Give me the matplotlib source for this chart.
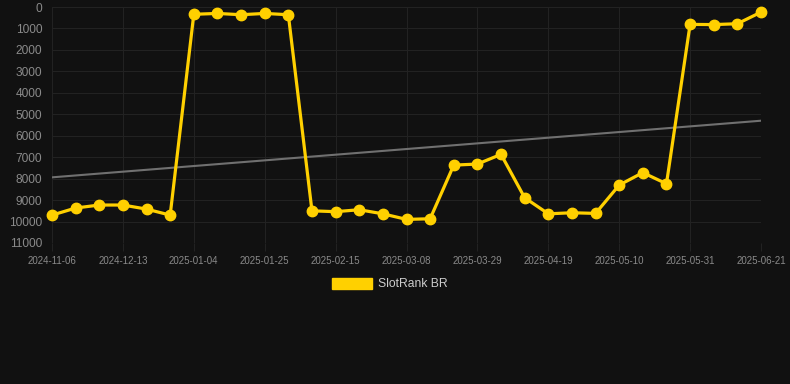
import numpy as np
import matplotlib.pyplot as plt
from matplotlib.patches import Patch

plt.rcParams['font.family'] = ['Liberation Sans', 'DejaVu Sans']

# weekly rank values (category axis, only every 3rd date is labelled)
dates = ['2024-11-06', '2024-11-22', '2024-11-29', '2024-12-13', '2024-12-20',
         '2024-12-27', '2025-01-04', '2025-01-11', '2025-01-18', '2025-01-25',
         '2025-02-01', '2025-02-08', '2025-02-15', '2025-02-22', '2025-03-01',
         '2025-03-08', '2025-03-15', '2025-03-22', '2025-03-29', '2025-04-05',
         '2025-04-12', '2025-04-19', '2025-04-26', '2025-05-03', '2025-05-10',
         '2025-05-17', '2025-05-24', '2025-05-31', '2025-06-07', '2025-06-14',
         '2025-06-21']
rank = [9700, 9370, 9230, 9230, 9420, 9700, 340, 300, 360, 300, 360,
        9500, 9540, 9450, 9640, 9900, 9870, 7370, 7320, 6870, 8890,
        9640, 9590, 9620, 8300, 7720, 8240, 810, 820, 780, 240]
trend_ends = [7940, 5300]

yticks = list(range(0, 11001, 1000))

bg = '#111111'
gold = '#FFD000'
grid = '#222222'
label = '#8a8a8a'

fig = plt.figure(figsize=(7.9, 3.84), dpi=100, facecolor=bg)
ax = fig.add_axes([52 / 790, 1 - 243 / 384, (761 - 52) / 790, (243 - 7) / 384])
ax.set_facecolor(bg)

x = np.arange(len(rank))
ax.plot([x[0], x[-1]], trend_ends, color='#707070', lw=1.5, zorder=2)
ax.plot(x, rank, color=gold, lw=2.3, marker='o', ms=7.5, zorder=3, clip_on=False)

ax.set_xlim(0, len(rank) - 1)
ax.set_ylim(11000, 0)
ax.set_yticks(yticks)
ax.set_yticklabels([str(v) for v in yticks])
ax.set_xticks(x[::3])
ax.set_xticklabels(dates[::3])

ax.tick_params(axis='y', colors=grid, labelcolor=label, labelsize=8.6, length=0, pad=7)
ax.tick_params(axis='x', colors=grid, labelcolor=label, labelsize=7, length=6, pad=3)
ax.grid(True, color=grid, lw=0.8)
for s in ax.spines.values():
    s.set_visible(False)

fig.legend(handles=[Patch(facecolor=gold, edgecolor=gold)], labels=['SlotRank BR'],
           loc='center', bbox_to_anchor=(390 / 790, 1 - 284 / 384), frameon=False,
           fontsize=8.7, labelcolor='#cccccc', handlelength=3.3, handleheight=1.0,
           handletextpad=0.5)

fig.savefig('out.png', dpi=100, facecolor=bg)
